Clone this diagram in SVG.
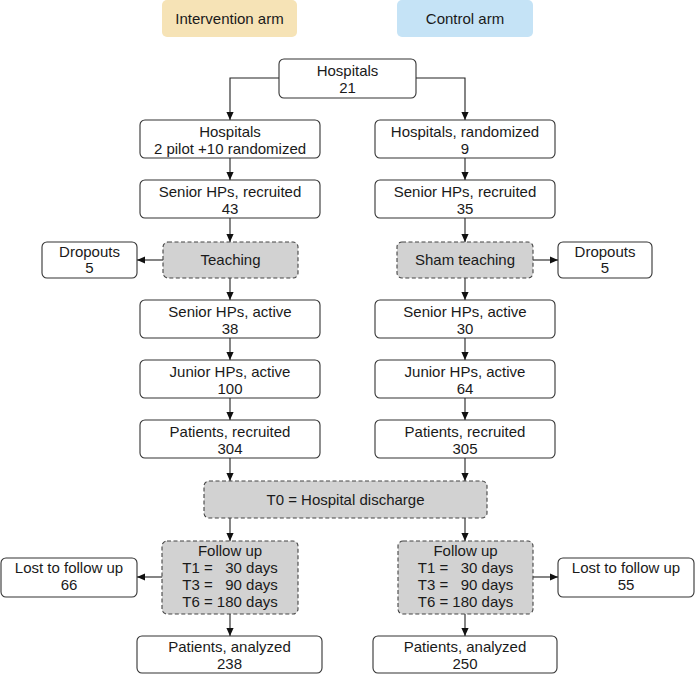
<svg xmlns="http://www.w3.org/2000/svg" width="695" height="675" viewBox="0 0 695 675">
<style>
text{font-family:"Liberation Sans",Arial,sans-serif;font-size:15px;fill:#1a1a1a;text-anchor:middle}
.b{fill:#fff;stroke:#333;stroke-width:1.1}
.d{fill:#d2d2d2;stroke:#444;stroke-width:1.1;stroke-dasharray:4 2.5}
.c{fill:none;stroke:#222;stroke-width:1.1}
</style>
<defs>
<marker id="ah" viewBox="0 0 10 10" refX="10" refY="5" markerWidth="8" markerHeight="8" markerUnits="userSpaceOnUse" orient="auto">
<path d="M0,0.5 L10,5 L0,9.5 Z" fill="#111"/>
</marker>
</defs>
<rect width="695" height="675" fill="#fff"/>
<g id="hdr-int"><rect x="162" y="0" width="135" height="37" rx="5" fill="#f6e3b6"/><text x="229.5" y="24">Intervention arm</text></g>
<g id="hdr-ctl"><rect x="397" y="0" width="136" height="37" rx="5" fill="#c5e3f6"/><text x="465" y="24">Control arm</text></g>

<g id="connectors" class="c">
<path class="c" d="M279,78 H230 V120" marker-end="url(#ah)"/>
<path class="c" d="M416,78 H465 V120" marker-end="url(#ah)"/>
<path class="c" d="M230,158 V180" marker-end="url(#ah)"/>
<path class="c" d="M230,218 V242" marker-end="url(#ah)"/>
<path class="c" d="M230,278 V300" marker-end="url(#ah)"/>
<path class="c" d="M230,338 V360" marker-end="url(#ah)"/>
<path class="c" d="M230,398 V420" marker-end="url(#ah)"/>
<path class="c" d="M230,458 V481" marker-end="url(#ah)"/>
<path class="c" d="M230,518 V541" marker-end="url(#ah)"/>
<path class="c" d="M230,614 V636" marker-end="url(#ah)"/>
<path class="c" d="M465,158 V180" marker-end="url(#ah)"/>
<path class="c" d="M465,218 V242" marker-end="url(#ah)"/>
<path class="c" d="M465,278 V300" marker-end="url(#ah)"/>
<path class="c" d="M465,338 V360" marker-end="url(#ah)"/>
<path class="c" d="M465,398 V420" marker-end="url(#ah)"/>
<path class="c" d="M465,458 V481" marker-end="url(#ah)"/>
<path class="c" d="M465,518 V541" marker-end="url(#ah)"/>
<path class="c" d="M465,614 V636" marker-end="url(#ah)"/>
<path class="c" d="M163,260 H137" marker-end="url(#ah)"/>
<path class="c" d="M533,260 H558" marker-end="url(#ah)"/>
<path class="c" d="M162,577 H137" marker-end="url(#ah)"/>
<path class="c" d="M533,577 H558" marker-end="url(#ah)"/>
</g>

<g id="hosp21"><rect class="b" x="279" y="59" width="137" height="39" rx="5"/><text x="347.5" y="76">Hospitals</text><text x="347.5" y="93">21</text></g>

<g id="l-hosp"><rect class="b" x="140" y="120" width="180" height="38" rx="5"/><text x="230" y="137">Hospitals</text><text x="230" y="154">2 pilot +10 randomized</text></g>
<g id="l-senrec"><rect class="b" x="140" y="180" width="180" height="38" rx="5"/><text x="230" y="197">Senior HPs, recruited</text><text x="230" y="214">43</text></g>
<g id="l-teach"><rect class="d" x="163" y="242" width="135" height="36" rx="5"/><text x="230.5" y="265">Teaching</text></g>
<g id="l-drop"><rect class="b" x="42" y="242" width="95" height="36" rx="5"/><text x="89.5" y="257">Dropouts</text><text x="89.5" y="273">5</text></g>
<g id="l-senact"><rect class="b" x="140" y="300" width="180" height="38" rx="5"/><text x="230" y="317">Senior HPs, active</text><text x="230" y="334">38</text></g>
<g id="l-jun"><rect class="b" x="140" y="360" width="180" height="38" rx="5"/><text x="230" y="377">Junior HPs, active</text><text x="230" y="394">100</text></g>
<g id="l-pat"><rect class="b" x="140" y="420" width="180" height="38" rx="5"/><text x="230" y="437">Patients, recruited</text><text x="230" y="454">304</text></g>

<g id="r-hosp"><rect class="b" x="375" y="120" width="180" height="38" rx="5"/><text x="465" y="137">Hospitals, randomized</text><text x="465" y="154">9</text></g>
<g id="r-senrec"><rect class="b" x="375" y="180" width="180" height="38" rx="5"/><text x="465" y="197">Senior HPs, recruited</text><text x="465" y="214">35</text></g>
<g id="r-teach"><rect class="d" x="397" y="242" width="136" height="36" rx="5"/><text x="465" y="265">Sham teaching</text></g>
<g id="r-drop"><rect class="b" x="558" y="242" width="94" height="36" rx="5"/><text x="605" y="257">Dropouts</text><text x="605" y="273">5</text></g>
<g id="r-senact"><rect class="b" x="375" y="300" width="180" height="38" rx="5"/><text x="465" y="317">Senior HPs, active</text><text x="465" y="334">30</text></g>
<g id="r-jun"><rect class="b" x="375" y="360" width="180" height="38" rx="5"/><text x="465" y="377">Junior HPs, active</text><text x="465" y="394">64</text></g>
<g id="r-pat"><rect class="b" x="375" y="420" width="180" height="38" rx="5"/><text x="465" y="437">Patients, recruited</text><text x="465" y="454">305</text></g>

<g id="t0"><rect class="d" x="204" y="481" width="283" height="37" rx="5"/><text x="345.5" y="504.5">T0 = Hospital discharge</text></g>

<g id="l-fu"><rect class="d" x="162" y="541" width="136" height="73" rx="5"/>
<text x="230" y="556">Follow up</text>
<text x="230" y="573" xml:space="preserve">T1 =   30 days</text>
<text x="230" y="590" xml:space="preserve">T3 =   90 days</text>
<text x="230" y="607">T6 = 180 days</text></g>
<g id="l-lost"><rect class="b" x="1" y="558" width="136" height="39" rx="5"/><text x="69" y="573">Lost to follow up</text><text x="69" y="590">66</text></g>
<g id="l-an"><rect class="b" x="137" y="636" width="185" height="37" rx="5"/><text x="229.5" y="652">Patients, analyzed</text><text x="229.5" y="669">238</text></g>

<g id="r-fu"><rect class="d" x="398" y="541" width="135" height="73" rx="5"/>
<text x="465.5" y="556">Follow up</text>
<text x="465.5" y="573" xml:space="preserve">T1 =   30 days</text>
<text x="465.5" y="590" xml:space="preserve">T3 =   90 days</text>
<text x="465.5" y="607">T6 = 180 days</text></g>
<g id="r-lost"><rect class="b" x="558" y="558" width="136" height="39" rx="5"/><text x="626" y="573">Lost to follow up</text><text x="626" y="590">55</text></g>
<g id="r-an"><rect class="b" x="373" y="636" width="184" height="37" rx="5"/><text x="465" y="652">Patients, analyzed</text><text x="465" y="669">250</text></g>
</svg>
